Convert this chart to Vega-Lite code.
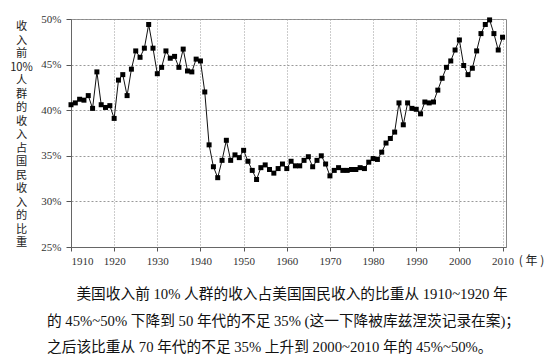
{
  "$schema": "https://vega.github.io/schema/vega-lite/v6.json",
  "width": 435,
  "height": 228,
  "autosize": "none",
  "padding": {"left": 71, "top": 19, "right": 49, "bottom": 115},
  "background": "white",
  "title": {
    "text": [
      "\u200b\u3000\u3000美国收入前 10% 人群的收入占美国国民收入的比重从 1910~1920 年",
      "的 45%~50% 下降到 50 年代的不足 35% (这一下降被库兹涅茨记录在案)；",
      "之后该比重从 70 年代的不足 35% 上升到 2000~2010 年的 45%~50%。"
    ],
    "orient": "bottom",
    "anchor": "start",
    "frame": "group",
    "align": "left",
    "baseline": "top",
    "dx": -24,
    "offset": 21,
    "fontSize": 14.7,
    "lineHeight": 26.7,
    "font": "Liberation Serif, Noto Sans CJK SC",
    "fontWeight": "normal",
    "color": "#111"
  },
  "data": {
    "values": [
      {"year": 1910, "share": 40.6}, {"year": 1911, "share": 40.8}, {"year": 1912, "share": 41.2},
      {"year": 1913, "share": 41.1}, {"year": 1914, "share": 41.6}, {"year": 1915, "share": 40.2},
      {"year": 1916, "share": 44.2}, {"year": 1917, "share": 40.6}, {"year": 1918, "share": 40.3},
      {"year": 1919, "share": 40.5}, {"year": 1920, "share": 39.1}, {"year": 1921, "share": 43.3},
      {"year": 1922, "share": 43.9}, {"year": 1923, "share": 41.6}, {"year": 1924, "share": 44.5},
      {"year": 1925, "share": 46.5}, {"year": 1926, "share": 45.8}, {"year": 1927, "share": 46.8},
      {"year": 1928, "share": 49.4}, {"year": 1929, "share": 46.8}, {"year": 1930, "share": 44.0},
      {"year": 1931, "share": 44.7}, {"year": 1932, "share": 46.5}, {"year": 1933, "share": 45.7},
      {"year": 1934, "share": 45.9}, {"year": 1935, "share": 44.7}, {"year": 1936, "share": 46.7},
      {"year": 1937, "share": 44.3}, {"year": 1938, "share": 44.2}, {"year": 1939, "share": 45.6},
      {"year": 1940, "share": 45.4}, {"year": 1941, "share": 42.0}, {"year": 1942, "share": 36.2},
      {"year": 1943, "share": 33.8}, {"year": 1944, "share": 32.6}, {"year": 1945, "share": 34.5},
      {"year": 1946, "share": 36.7}, {"year": 1947, "share": 34.5}, {"year": 1948, "share": 35.1},
      {"year": 1949, "share": 34.8}, {"year": 1950, "share": 35.6}, {"year": 1951, "share": 34.4},
      {"year": 1952, "share": 33.4}, {"year": 1953, "share": 32.4}, {"year": 1954, "share": 33.7},
      {"year": 1955, "share": 34.0}, {"year": 1956, "share": 33.5}, {"year": 1957, "share": 33.1},
      {"year": 1958, "share": 33.6}, {"year": 1959, "share": 34.1}, {"year": 1960, "share": 33.6},
      {"year": 1961, "share": 34.4}, {"year": 1962, "share": 33.9}, {"year": 1963, "share": 33.9},
      {"year": 1964, "share": 34.5}, {"year": 1965, "share": 34.9}, {"year": 1966, "share": 33.8},
      {"year": 1967, "share": 34.5}, {"year": 1968, "share": 35.0}, {"year": 1969, "share": 34.1},
      {"year": 1970, "share": 32.8}, {"year": 1971, "share": 33.4}, {"year": 1972, "share": 33.7},
      {"year": 1973, "share": 33.4}, {"year": 1974, "share": 33.4}, {"year": 1975, "share": 33.5},
      {"year": 1976, "share": 33.5}, {"year": 1977, "share": 33.7}, {"year": 1978, "share": 33.6},
      {"year": 1979, "share": 34.3}, {"year": 1980, "share": 34.7}, {"year": 1981, "share": 34.6},
      {"year": 1982, "share": 35.4}, {"year": 1983, "share": 36.4}, {"year": 1984, "share": 36.9},
      {"year": 1985, "share": 37.6}, {"year": 1986, "share": 40.8}, {"year": 1987, "share": 38.4},
      {"year": 1988, "share": 40.8}, {"year": 1989, "share": 40.2}, {"year": 1990, "share": 40.1},
      {"year": 1991, "share": 39.6}, {"year": 1992, "share": 40.9}, {"year": 1993, "share": 40.8},
      {"year": 1994, "share": 40.9}, {"year": 1995, "share": 42.2}, {"year": 1996, "share": 43.5},
      {"year": 1997, "share": 44.7}, {"year": 1998, "share": 45.4}, {"year": 1999, "share": 46.6},
      {"year": 2000, "share": 47.7}, {"year": 2001, "share": 44.9}, {"year": 2002, "share": 43.9},
      {"year": 2003, "share": 44.6}, {"year": 2004, "share": 46.5}, {"year": 2005, "share": 48.4},
      {"year": 2006, "share": 49.4}, {"year": 2007, "share": 49.9}, {"year": 2008, "share": 48.4},
      {"year": 2009, "share": 46.6}, {"year": 2010, "share": 48.0}
    ]
  },
  "mark": {
    "type": "line",
    "color": "#111",
    "strokeWidth": 1,
    "point": {"shape": "square", "size": 25, "filled": true, "color": "#000", "opacity": 1}
  },
  "encoding": {
    "x": {
      "field": "year",
      "type": "quantitative",
      "scale": {"domain": [1910, 2010.8], "nice": false, "zero": false},
      "axis": {
        "values": [1910, 1920, 1930, 1940, 1950, 1960, 1970, 1980, 1990, 2000, 2010],
        "format": "d",
        "title": "( 年 )",
        "titleX": 460,
        "titleY": 13,
        "titleBaseline": "middle",
        "titleAlign": "center",
        "titleFont": "Noto Sans CJK SC",
        "titleFontSize": 12,
        "titleFontWeight": "normal",
        "titleColor": "#222",
        "labelFont": "Liberation Serif",
        "labelFontSize": 11,
        "labelColor": "#333",
        "labelPadding": 4,
        "tickSize": 4,
        "tickColor": "#555",
        "domainColor": "#666",
        "gridColor": "#999",
        "gridDash": [1, 2],
        "gridOpacity": 1
      }
    },
    "y": {
      "field": "share",
      "type": "quantitative",
      "scale": {"domain": [25, 50], "nice": false, "zero": false},
      "axis": {
        "values": [25, 30, 35, 40, 45, 50],
        "labelExpr": "datum.value + '%'",
        "title": ["收", "入", "前", "10%", " ", "人", "群", "的", "收", "入", "占", "国", "民", "收", "入", "的", "比", "重"],
        "titleAngle": 0,
        "titleX": -50,
        "titleY": 1.5,
        "titleBaseline": "top",
        "titleAlign": "center",
        "titleFont": "Noto Sans CJK SC",
        "titleFontSize": 11.2,
        "titleLineHeight": 13.5,
        "titleFontWeight": "normal",
        "titleColor": "#222",
        "labelFont": "Liberation Serif",
        "labelFontSize": 11,
        "labelColor": "#333",
        "labelPadding": 5,
        "tickSize": 5,
        "tickColor": "#555",
        "domainColor": "#666",
        "gridColor": "#999",
        "gridDash": [2, 2],
        "gridOpacity": 1
      }
    }
  },
  "config": {
    "view": {"stroke": "#888", "strokeWidth": 1}
  }
}
